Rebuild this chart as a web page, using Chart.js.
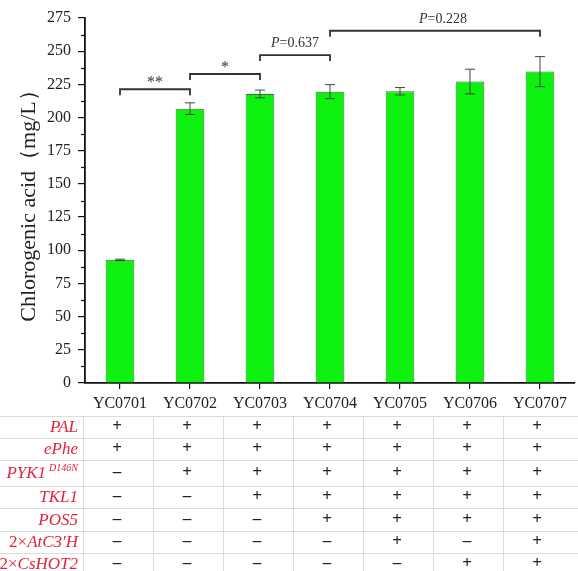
<!doctype html>
<html>
<head>
	<meta charset=utf-8>
	<title>Chlorogenic acid</title>
	<script src="https://cdn.jsdelivr.net/npm/chart.js@4.4.0/dist/chart.umd.min.js"></script>
	<style>
		body { margin: 0; background: #fff; }
	</style>
</head>
<body>
	<canvas id="chart" width="578" height="571"></canvas>
	<script>
		var strains = ['YC0701', 'YC0702', 'YC0703', 'YC0704', 'YC0705', 'YC0706', 'YC0707'];
		var titers = [92.8, 206.7, 217.8, 219.5, 219.8, 227.1, 234.6];
		var errors = [0.5, 4.4, 2.9, 5.3, 2.8, 9.3, 11.3];
		var yTicks = [0, 25, 50, 75, 100, 125, 150, 175, 200, 225, 250, 275];

		// significance brackets: from, to, height (mg/L), label
		var brackets = [
			{ from: 0, to: 1, y: 221.3, label: '**' },
			{ from: 1, to: 2, y: 232.8, label: '*' },
			{ from: 2, to: 3, y: 247.1, label: 'P=0.637' },
			{ from: 3, to: 6, y: 265.4, label: 'P=0.228' }
		];

		// genotype table under the axis
		var genes = ['PAL', 'ePhe', 'PYK1', 'TKL1', 'POS5', 'AtC3\'H', 'CsHOT2'];
		var genePrefix = ['', '', '', '', '', '2×', '2×'];
		var geneSup = ['', '', 'D146N', '', '', '', ''];
		var PAL = ['+', '+', '+', '+', '+', '+', '+'];
		var ePhe = ['+', '+', '+', '+', '+', '+', '+'];
		var PYK1 = ['–', '+', '+', '+', '+', '+', '+'];
		var TKL1 = ['–', '–', '+', '+', '+', '+', '+'];
		var POS5 = ['–', '–', '–', '+', '+', '+', '+'];
		var AtC3H = ['–', '–', '–', '–', '+', '–', '+'];
		var CsHOT2 = ['–', '–', '–', '–', '–', '+', '+'];
		var marks = [PAL, ePhe, PYK1, TKL1, POS5, AtC3H, CsHOT2];

		var serif = '"Liberation Serif", "DejaVu Serif", serif';

		var extras = {
			id: 'extras',
			afterDatasetsDraw: function(chart) {
				var ctx = chart.ctx;
				var x = chart.scales.x;
				var y = chart.scales.y;
				var meta = chart.getDatasetMeta(0);
				ctx.save();

				// error bars
				ctx.strokeStyle = '#444';
				ctx.lineWidth = 1;
				meta.data.forEach(function(bar, i) {
					var top = y.getPixelForValue(titers[i] + errors[i]);
					var bot = y.getPixelForValue(titers[i] - errors[i]);
					ctx.beginPath();
					ctx.moveTo(bar.x, top); ctx.lineTo(bar.x, bot);
					ctx.moveTo(bar.x - 5, top); ctx.lineTo(bar.x + 5, top);
					ctx.moveTo(bar.x - 5, bot); ctx.lineTo(bar.x + 5, bot);
					ctx.stroke();
				});

				// minor ticks
				ctx.strokeStyle = '#111';
				ctx.lineWidth = 1.2;
				for (var v = 12.5; v < 275; v += 25) {
					var py = Math.round(y.getPixelForValue(v)) + 0.5;
					ctx.beginPath();
					ctx.moveTo(y.right - 4, py); ctx.lineTo(y.right, py);
					ctx.stroke();
				}

				// brackets
				ctx.strokeStyle = '#333';
				ctx.lineWidth = 1.8;
				ctx.fillStyle = '#333';
				ctx.textAlign = 'center';
				ctx.textBaseline = 'alphabetic';
				brackets.forEach(function(b) {
					var x1 = x.getPixelForValue(b.from);
					var x2 = x.getPixelForValue(b.to);
					var by = y.getPixelForValue(b.y);
					ctx.beginPath();
					ctx.moveTo(x1, by + 6); ctx.lineTo(x1, by); ctx.lineTo(x2, by); ctx.lineTo(x2, by + 6);
					ctx.stroke();
					var cx = (x1 + x2) / 2;
					if (b.label.charAt(0) === 'P') {
						if (b.to - b.from > 1) cx += 8;
						ctx.font = 'italic 14px ' + serif;
						var pw = ctx.measureText('P').width;
						ctx.font = '14px ' + serif;
						var rest = b.label.slice(1);
						var rw = ctx.measureText(rest).width;
						var sx = cx - (pw + rw) / 2;
						ctx.textAlign = 'left';
						ctx.font = 'italic 14px ' + serif;
						ctx.fillText('P', sx, by - 8);
						ctx.font = '14px ' + serif;
						ctx.fillText(rest, sx + pw, by - 8);
						ctx.textAlign = 'center';
					} else {
						ctx.font = '16px ' + serif;
						ctx.fillText(b.label, cx, by - 2);
					}
				});

				// genotype table
				var rowTops = [416, 438, 460, 486, 508, 531, 553, 575];
				var W = chart.width;
				ctx.strokeStyle = '#dcdcdc';
				ctx.lineWidth = 1;
				rowTops.slice(0, 7).forEach(function(t) {
					ctx.beginPath();
					ctx.moveTo(0, t + 0.5); ctx.lineTo(W, t + 0.5);
					ctx.stroke();
				});
				for (var c = 0; c < strains.length; c++) {
					var lx = Math.round(x.getPixelForValue(c) - 37) + 0.5;
					ctx.beginPath();
					ctx.moveTo(lx, rowTops[0]); ctx.lineTo(lx, 571);
					ctx.stroke();
				}
				ctx.textBaseline = 'middle';
				for (var r = 0; r < genes.length; r++) {
					var cy = (rowTops[r] + rowTops[r + 1]) / 2;
					// row label, right aligned
					ctx.fillStyle = '#e0243c';
					ctx.textAlign = 'right';
					var rx = 78;
					if (geneSup[r]) {
						ctx.font = 'italic 10px ' + serif;
						ctx.fillText(geneSup[r], rx, cy - 5);
						rx -= ctx.measureText(geneSup[r]).width + 3;
					}
					ctx.font = 'italic 17px ' + serif;
					ctx.fillText(genes[r], rx, cy + 1);
					rx -= ctx.measureText(genes[r]).width;
					if (genePrefix[r]) {
						ctx.font = '17px ' + serif;
						ctx.fillText(genePrefix[r], rx, cy + 1);
					}
					// marks
					ctx.fillStyle = '#222';
					ctx.textAlign = 'center';
					ctx.font = 'bold 17px ' + serif;
					for (var k = 0; k < strains.length; k++) {
						ctx.fillText(marks[r][k], x.getPixelForValue(k) - 3, cy);
					}
				}
				ctx.restore();
			}
		};

		var config = {
			type: 'bar',
			data: {
				labels: strains,
				datasets: [{
					data: titers,
					backgroundColor: '#0ef00e',
					borderColor: '#2b7d2b',
					borderWidth: 1,
					barPercentage: 0.41,
					categoryPercentage: 1
				}]
			},
			options: {
				responsive: false,
				animation: false,
				devicePixelRatio: 1,
				layout: { padding: { top: 18, right: 3, bottom: 158, left: 0 } },
				plugins: {
					legend: { display: false },
					tooltip: { enabled: false }
				},
				scales: {
					x: {
						afterFit: function(s) { s.height = 30; },
						grid: {
							offset: false,
							drawOnChartArea: false,
							tickLength: 6,
							color: '#111',
							lineWidth: 1.2
						},
						border: { color: '#111', width: 1.8 },
						ticks: {
							color: '#222',
							padding: 5,
							font: { family: serif, size: 16 }
						}
					},
					y: {
						min: 0,
						max: 275,
						afterFit: function(s) { s.width = 85; },
						afterBuildTicks: function(s) {
							s.ticks = yTicks.map(function(v) { return { value: v }; });
						},
						grid: {
							drawOnChartArea: false,
							tickLength: 7,
							color: '#111',
							lineWidth: 1.2
						},
						border: { color: '#111', width: 1.8 },
						ticks: {
							color: '#222',
							padding: 7,
							font: { family: serif, size: 16 }
						},
						title: {
							display: true,
							text: 'Chlorogenic acid（mg/L）',
							color: '#222',
							padding: { top: 16, bottom: 0 },
							font: { family: serif, size: 22 }
						}
					}
				}
			},
			plugins: [extras]
		};

		new Chart(document.getElementById('chart').getContext('2d'), config);
	</script>
</body>
</html>
